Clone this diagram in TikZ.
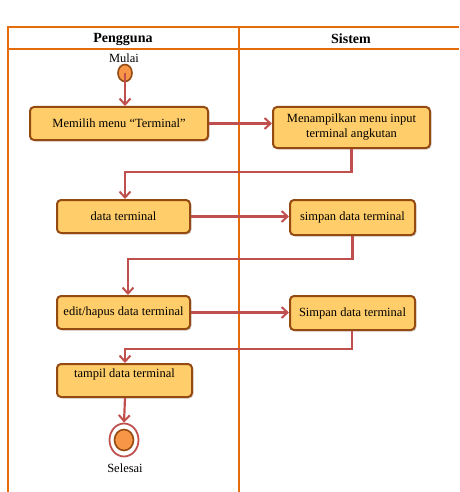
\documentclass[tikz,border=0pt]{standalone}
\usepackage{fontspec}
\setmainfont{Liberation Serif}
\usetikzlibrary{arrows.meta,shadows,shapes.geometric}

\definecolor{lane}{RGB}{228,108,10}
\definecolor{actfill}{RGB}{255,205,105}
\definecolor{actline}{RGB}{148,74,16}
\definecolor{flowred}{RGB}{192,80,77}
\definecolor{dotfill}{RGB}{247,150,70}

\tikzset{
  lanerule/.style={draw=lane, line width=2pt},
  lanehead/.style={font=\fontsize{14}{16}\selectfont\bfseries},
  actbox/.style={draw=actline, fill=actfill, line width=2pt, rounded corners=4pt,
    font=\fontsize{12.5}{15}\selectfont, align=center, inner sep=2pt,
    drop shadow={shadow xshift=1.5pt, shadow yshift=-1.5pt, opacity=0.3}},
  flow/.style={draw=flowred, line width=2.2pt, -{Straight Barb[length=6pt,width=11pt,line width=2pt]}},
  caption/.style={font=\fontsize{12.5}{15}\selectfont, inner sep=0pt},
}

\begin{document}
\begin{tikzpicture}[x=1pt,y=-1pt]
  \useasboundingbox (0,0) rectangle (459,492);

  % swimlane frame
  \draw[lanerule] (7,27) -- (459,27);
  \draw[lanerule] (7,49) -- (459,49);
  \draw[lanerule] (8,27) -- (8,492);
  \draw[lanerule] (239,27) -- (239,492);
  \node[lanehead] (hUser) at (123,39) {Pengguna};
  \node[lanehead] (hSys) at (351,39) {Sistem};

  % start state
  \node[caption] (startLbl) at (124,58) {Mulai};
  \node[draw=actline, fill=dotfill, line width=1.6pt, ellipse, minimum width=14pt, minimum height=17pt, inner sep=0pt] (start) at (125,73) {};

  % activities
  \node[actbox, minimum width=178pt, minimum height=33pt] (b1) at (119,123.5) {Memilih menu “Terminal”};
  \node[actbox, minimum width=157pt, minimum height=41pt] (b2) at (351.5,127.5) {Menampilkan menu input\\terminal angkutan};
  \node[actbox, minimum width=133pt, minimum height=33pt] (b3) at (123.5,216.5) {data terminal};
  \node[actbox, minimum width=125pt, minimum height=35pt] (b4) at (352.5,217.5) {simpan data terminal};
  \node[actbox, minimum width=133pt, minimum height=33pt] (b5) at (123.5,312.5) {edit/hapus data terminal};
  \node[actbox, minimum width=125pt, minimum height=34pt] (b6) at (352.5,313) {Simpan data terminal};
  \node[actbox, minimum width=135pt, minimum height=33pt] (b7) at (124.5,380.5) {\raisebox{6pt}[\height][\depth]{tampil data terminal}};

  % end state
  \node[draw=flowred, line width=1.8pt, ellipse, minimum width=29pt, minimum height=33pt, inner sep=0pt] (endRing) at (124,440) {};
  \node[draw=actline, fill=dotfill, line width=1.6pt, ellipse, minimum width=19pt, minimum height=21pt, inner sep=0pt] (endDot) at (124,440) {};
  \node[caption] (endLbl) at (125,468) {Selesai};

  % control flow
  \draw[flow] (start.center) -- (start.center |- b1.north);
  \draw[flow] (b1.east) -- (b2.west |- b1.east);
  \draw[flow] (b2.south) -- ++(0,23) -| ([xshift=1.5pt]b3.north);
  \draw[flow] (b3.east) -- (b4.west |- b3.east);
  \draw[flow] (b4.south) -- ++(0,23) -| ([xshift=4.5pt]b5.north);
  \draw[flow] (b5.east) -- (b6.west |- b5.east);
  \draw[flow] ([xshift=-0.5pt]b6.south) -- ++(0,18) -| ([xshift=0.5pt]b7.north);
  \draw[flow] ([xshift=0.5pt]b7.south) -- (endRing.north);
\end{tikzpicture}
\end{document}
